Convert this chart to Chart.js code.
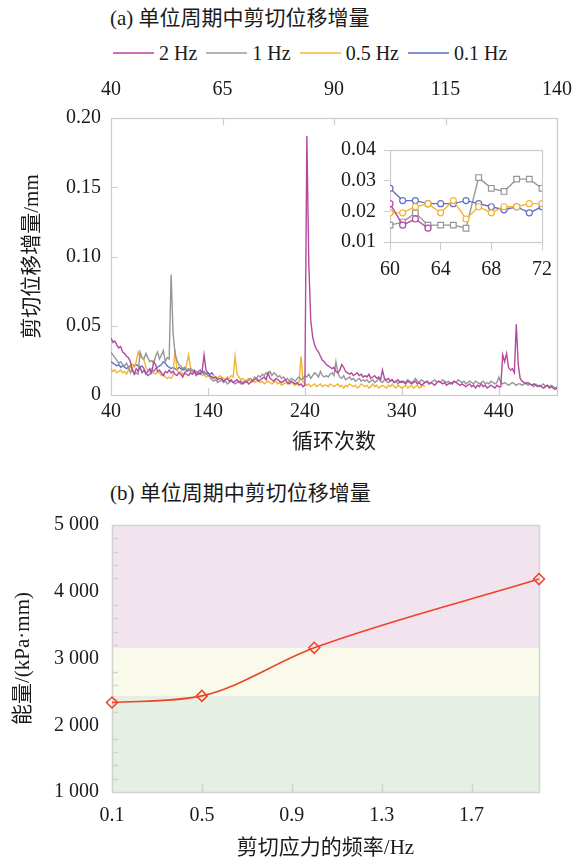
<!DOCTYPE html>
<html><head><meta charset="utf-8">
<script src="https://cdn.jsdelivr.net/npm/chart.js@4.4.1/dist/chart.umd.min.js"></script>
<style>
html,body{margin:0;padding:0;background:#fff;}
body{width:588px;height:863px;position:relative;overflow:hidden;font-family:'Liberation Serif','Noto Sans CJK SC',serif;color:#1a1a1a;}
canvas{position:absolute;display:block;}
.ttl{position:absolute;font-size:21px;line-height:24px;white-space:nowrap;}
#legend{position:absolute;left:113px;top:41px;display:flex;gap:9px;font-size:20px;line-height:24px;white-space:nowrap;}
#legend .it{display:flex;align-items:center;gap:5px;}
#legend .ln{width:41px;height:2px;}
</style></head><body>
<div class="ttl" style="left:110px;top:6px">(a) 单位周期中剪切位移增量</div>
<div id="legend"></div>
<canvas id="cA" width="588" height="400" style="left:0;top:60px"></canvas>
<canvas id="cB" width="250" height="160" style="left:320px;top:130px"></canvas>
<div class="ttl" style="left:110px;top:481px">(b) 单位周期中剪切位移增量</div>
<canvas id="cC" width="588" height="363" style="left:0;top:500px"></canvas>
<script>
// ---------- DATA: panel (a) ----------
const seriesNames = ['2 Hz', '1 Hz', '0.5 Hz', '0.1 Hz'];
const cycles = [40,42,44,46,48,50,52,54,56,58,60,62,64,66,68,70,72,74,76,78,80,82,84,86,88,90,92,94,96,98,100,
102,104,106,108,110,112,114,116,118,120,122,124,126,128,130,132,134,136,138,140,142,144,146,148,150,152,154,156,158,160,
162,164,166,168,170,172,174,176,178,180,182,184,186,188,190,192,194,196,198,200,202,204,206,208,210,212,214,216,218,220,
222,224,226,228,230,232,234,236,238,240,242,244,246,248,250,252,254,256,258,260,262,264,266,268,270,272,274,276,278,280,
282,284,286,288,290,292,294,296,298,300,302,304,306,308,310,312,314,316,318,320,322,324,326,328,330,332,334,336,338,340,
342,344,346,348,350,352,354,356,358,360,362,364,366,368,370,372,374,376,378,380,382,384,386,388,390,392,394,396,398,400,
402,404,406,408,410,412,414,416,418,420,422,424,426,428,430,432,434,436,438,440,442,444,446,448,450,452,454,456,458,460,
462,464,466,468,470,472,474,476,478,480,482,484,486,488,490,492,494,496,498,500];

const disp2Hz = [
0.041,0.038,0.039,0.036,0.034,0.035,0.031,0.030,0.028,0.027,0.024,
0.018,0.015,0.019,0.017,0.020,0.016,0.018,0.015,0.017,0.019,0.016,0.024,0.022,0.017,0.018,0.016,0.014,0.017,0.016,0.018,
0.016,0.017,0.015,0.014,0.016,0.015,0.013,0.016,0.015,0.014,0.016,0.015,0.017,0.014,0.016,0.015,0.017,0.029,0.018,0.016,
0.014,0.013,0.012,0.013,0.011,0.012,0.012,0.010,0.011,0.012,0.010,0.011,0.009,0.010,0.011,0.009,0.010,0.008,0.009,0.010,
0.008,0.009,0.010,0.011,0.012,0.010,0.011,0.012,0.013,0.011,
0.016,0.012,0.011,0.010,0.012,0.011,0.010,0.009,0.010,0.011,0.009,0.008,0.010,0.009,0.008,0.009,0.007,0.008,0.006,0.007,
0.187,0.095,0.054,0.042,0.036,0.033,0.031,0.028,0.025,0.024,
0.022,0.021,0.020,0.019,0.020,0.017,0.016,0.018,0.022,0.020,0.017,0.016,0.015,0.016,0.014,0.015,0.016,0.014,0.015,0.013,
0.014,0.013,0.015,0.012,0.013,0.014,0.012,0.013,0.011,0.018,0.012,0.011,0.012,0.010,0.011,0.009,0.010,0.011,0.009,0.010,
0.009,0.008,0.010,0.009,0.008,0.009,0.010,0.008,0.009,0.007,0.008,0.009,0.010,0.008,0.009,0.008,0.007,0.009,0.010,0.009,
0.008,0.009,0.007,0.008,0.009,0.008,0.010,0.009,0.008,0.007,
0.008,0.007,0.006,0.007,0.008,0.006,0.007,0.005,0.007,0.006,0.008,0.006,0.007,0.005,0.006,0.007,0.006,0.005,0.007,0.006,
0.006,0.029,0.024,0.030,0.020,0.018,0.019,0.016,0.051,0.022,
0.012,0.010,0.009,0.008,0.009,0.008,0.007,0.008,0.007,0.006,0.007,0.006,0.005,0.006,0.007,0.005,0.006,0.005,0.004,0.005];

const disp1Hz = [
0.031,0.029,0.027,0.025,0.023,0.024,0.022,0.021,0.023,0.020,0.016,
0.019,0.015,0.016,0.015,0.031,0.027,0.026,0.030,0.027,0.024,0.025,0.023,0.028,0.031,0.026,0.029,0.032,0.024,0.027,0.026,
0.087,0.045,0.030,0.025,0.022,0.021,0.019,0.020,0.018,0.019,0.017,0.018,0.016,0.017,0.015,0.016,0.017,0.015,0.016,0.014,
0.013,0.011,0.010,0.011,0.009,0.010,0.011,0.009,0.010,0.008,0.009,0.010,0.009,0.008,0.009,0.010,0.008,0.009,0.010,0.009,
0.011,0.012,0.010,0.013,0.012,0.014,0.013,0.015,0.014,0.016,
0.015,0.017,0.014,0.016,0.015,0.013,0.014,0.012,0.013,0.011,0.012,0.010,0.012,0.011,0.010,0.012,0.013,0.011,0.012,0.014,
0.013,0.015,0.012,0.014,0.016,0.015,0.013,0.017,0.014,0.013,
0.014,0.013,0.015,0.016,0.014,0.024,0.016,0.013,0.012,0.014,0.011,0.012,0.013,0.011,0.012,0.010,0.011,0.012,0.010,0.011,
0.010,0.011,0.009,0.010,0.011,0.009,0.010,0.012,0.010,0.009,0.011,0.010,0.009,0.010,0.011,0.009,0.010,0.008,0.010,0.009,
0.010,0.009,0.011,0.010,0.009,0.010,0.012,0.010,0.009,0.011,0.010,0.009,0.010,0.008,0.009,0.010,0.011,0.009,0.010,0.009,
0.011,0.010,0.009,0.010,0.008,0.009,0.010,0.009,0.011,0.010,
0.009,0.010,0.008,0.009,0.010,0.009,0.008,0.010,0.009,0.008,0.009,0.010,0.008,0.009,0.008,0.010,0.009,0.008,0.009,0.013,
0.009,0.008,0.009,0.008,0.007,0.008,0.009,0.008,0.007,0.008,
0.008,0.007,0.008,0.009,0.007,0.008,0.007,0.006,0.008,0.007,0.006,0.007,0.008,0.006,0.007,0.006,0.007,0.006,0.005,0.006];

const disp05Hz = [
0.019,0.017,0.018,0.016,0.017,0.018,0.016,0.017,0.015,0.018,0.020,
0.022,0.020,0.024,0.031,0.028,0.027,0.025,0.020,0.018,0.017,0.019,0.016,0.015,0.017,0.016,0.014,0.015,0.013,0.012,0.013,
0.012,0.014,0.033,0.018,0.016,0.017,0.015,0.016,0.022,0.029,0.020,0.018,0.016,0.017,0.015,0.016,0.014,0.015,0.013,0.014,
0.013,0.012,0.014,0.013,0.012,0.014,0.013,0.012,0.011,0.013,0.012,0.014,0.013,0.028,0.015,0.013,0.011,0.012,0.010,0.011,
0.012,0.010,0.011,0.009,0.010,0.011,0.009,0.010,0.008,0.009,
0.010,0.009,0.008,0.009,0.010,0.008,0.009,0.007,0.008,0.009,0.008,0.010,0.009,0.008,0.007,0.008,0.009,0.028,0.010,0.008,
0.007,0.008,0.006,0.007,0.008,0.006,0.007,0.008,0.006,0.007,
0.007,0.006,0.008,0.007,0.006,0.007,0.008,0.006,0.007,0.005,0.007,0.006,0.008,0.007,0.006,0.007,0.005,0.006,0.008,0.007,
0.006,0.007,0.005,0.006,0.008,0.006,0.007,0.005,0.006,0.007,0.006,0.005,0.007,0.006,0.008,0.006,0.005,0.007,0.006,0.005,
0.006,0.007,0.005,0.006,0.007,0.005,0.006,0.007,0.005,0.006,0.007,0.006];

const disp01Hz = [
0.024,0.023,0.022,0.021,0.022,0.020,0.021,0.020,0.019,0.020,0.021,
0.022,0.021,0.022,0.021,0.020,0.021,0.019,0.016,0.014,0.015,0.018,0.017,0.019,0.020,0.021,0.022,0.024,0.023,0.021,0.020,
0.019,0.020,0.019,0.018,0.020,0.019,0.018,0.019,0.017,0.018,0.019,0.017,0.018,0.016,0.017,0.018,0.016,0.017,0.015,0.016,
0.015,0.016,0.014];

const mainSeries = [disp2Hz, disp1Hz, disp05Hz, disp01Hz];
const mainXTicks = [40, 140, 240, 340, 440];
const topXTicks = [40, 65, 90, 115, 140];
const mainYTicks = [0, 0.05, 0.1, 0.15, 0.2];

// inset (cycles 60-72)
const insetCycles = [60,61,62,63,64,65,66,67,68,69,70,71,72];
const inset2Hz  = [0.0225,0.0155,0.0175,0.0145];
const inset1Hz  = [0.0155,0.0165,0.0195,0.0155,0.0155,0.0155,0.0145,0.0310,0.0275,0.0265,0.0305,0.0305,0.0275];
const inset05Hz = [0.0195,0.0195,0.0215,0.0225,0.0195,0.0235,0.0175,0.0215,0.0195,0.0215,0.0215,0.0225,0.0225];
const inset01Hz = [0.0275,0.0235,0.0235,0.0225,0.0225,0.0225,0.0235,0.0225,0.0215,0.0205,0.0215,0.0195,0.0215];
const insetSeries = [inset2Hz, inset1Hz, inset05Hz, inset01Hz];
const insetXTicks = [60, 64, 68, 72];
const insetYTicks = [0.01, 0.02, 0.03, 0.04];

// ---------- DATA: panel (b) ----------
const freq = [0.1, 0.5, 1.0, 2.0];
const energy = [2340, 2440, 3160, 4190];
const bandEdges = [1000, 2440, 3160, 5000];
const freqTicks = [0.1, 0.5, 0.9, 1.3, 1.7];
const freqTickLabels = ['0.1', '0.5', '0.9', '1.3', '1.7'];
const energyTicks = [1000, 2000, 3000, 4000, 5000];
const energyMinorTicks = [1200,1400,1600,1800,2200,2400,2600,2800,3200,3400,3600,3800,4200,4400,4600,4800];

// ---------- styles ----------
const lineColors = ['#b5489f', '#969696', '#f3b432', '#6270c8'];
const legendColors = ['#cc6fb6', '#b4b4b4', '#f6c868', '#8490d2'];
const bandColors = ['#e6efe3', '#fafaeb', '#f1e4ef'];
const FONT = "'Liberation Serif', 'Noto Sans CJK SC', serif";
Chart.defaults.font.family = FONT;
Chart.defaults.font.size = 20;
Chart.defaults.color = '#1a1a1a';

// legend
const leg = document.getElementById('legend');
seriesNames.forEach((n, k) => {
  const it = document.createElement('div'); it.className = 'it';
  const ln = document.createElement('div'); ln.className = 'ln'; ln.style.background = legendColors[k];
  const tx = document.createElement('span'); tx.textContent = n;
  it.appendChild(ln); it.appendChild(tx); leg.appendChild(it);
});

const framePlugin = {
  id: 'frame',
  beforeDatasetsDraw(chart, args, o) {
    const {ctx, chartArea: a} = chart;
    ctx.save();
    (o.bands || []).forEach(b => {
      const s = chart.scales[b.axis];
      const y1 = s.getPixelForValue(b.from), y2 = s.getPixelForValue(b.to);
      ctx.fillStyle = b.color;
      ctx.fillRect(a.left, Math.min(y1, y2), a.right - a.left, Math.abs(y2 - y1));
    });
    ctx.strokeStyle = o.color; ctx.lineWidth = o.width;
    if (o.box) ctx.strokeRect(Math.round(a.left) + 0.5, Math.round(a.top) + 0.5, Math.round(a.right - a.left), Math.round(a.bottom - a.top));
    ctx.beginPath();
    (o.marks || []).forEach(m => {
      const s = chart.scales[m.axis];
      m.values.forEach(v => {
        const p = Math.round(s.getPixelForValue(v)) + 0.5;
        if (m.side === 'bottom') { ctx.moveTo(p, a.bottom); ctx.lineTo(p, a.bottom - m.len); }
        if (m.side === 'top') { ctx.moveTo(p, a.top); ctx.lineTo(p, a.top + m.len); }
        if (m.side === 'left') { ctx.moveTo(a.left, p); ctx.lineTo(a.left + m.len, p); }
      });
    });
    ctx.stroke();
    ctx.restore();
  }
};

const setTicks = arr => s => { s.ticks = arr.map(v => ({value: v})); };
const noGrid = {display: false, drawTicks: false, drawOnChartArea: false};

// ---------- chart (a) main ----------
new Chart(document.getElementById('cA'), {
  type: 'line',
  data: {
    datasets: seriesNames.map((name, k) => ({
      label: name,
      data: mainSeries[k].map((v, i) => ({x: cycles[i], y: v})),
      borderColor: lineColors[k], borderWidth: 1.4, pointRadius: 0, tension: 0, fill: false
    }))
  },
  options: {
    responsive: false, animation: false, events: [],
    layout: {padding: {top: 0, right: 27, bottom: 0, left: 0}},
    plugins: {
      legend: {display: false}, tooltip: {enabled: false},
      frame: {color: '#cbcbcb', width: 1.2, box: true, marks: [
        {axis: 'x', side: 'bottom', values: mainXTicks.slice(1), len: 7},
        {axis: 'xTop', side: 'top', values: topXTicks.slice(1, -1), len: 7},
        {axis: 'y', side: 'left', values: mainYTicks.slice(1, -1), len: 7}
      ]}
    },
    scales: {
      x: {type: 'linear', position: 'bottom', min: 40, max: 500,
        afterBuildTicks: setTicks(mainXTicks), afterFit: s => { s.height = 65; },
        grid: noGrid, border: {display: false},
        ticks: {padding: 5, maxRotation: 0, autoSkip: false},
        title: {display: true, text: '循环次数', font: {size: 21}, padding: {top: 0, bottom: 5}}},
      xTop: {type: 'linear', position: 'top', min: 40, max: 140,
        afterBuildTicks: setTicks(topXTicks), afterFit: s => { s.height = 58; },
        grid: noGrid, border: {display: false},
        ticks: {padding: 16, maxRotation: 0, autoSkip: false}},
      y: {type: 'linear', position: 'left', min: 0, max: 0.2,
        afterBuildTicks: setTicks(mainYTicks), afterFit: s => { s.width = 111; },
        grid: noGrid, border: {display: false},
        ticks: {padding: 10},
        title: {display: true, text: '剪切位移增量/mm', font: {size: 21}, padding: {top: 20, bottom: 0}}}
    }
  },
  plugins: [framePlugin]
});

// ---------- chart (a) inset ----------
const insetStyles = ['circle', 'rect', 'circle', 'circle'];
const insetOrder = [0, 2, 3, 1];
new Chart(document.getElementById('cB'), {
  type: 'line',
  data: {
    datasets: insetOrder.map(k => ({
      label: seriesNames[k],
      data: insetSeries[k].map((v, i) => ({x: insetCycles[i], y: v})),
      borderColor: lineColors[k], borderWidth: 1.4, tension: 0, fill: false,
      pointStyle: insetStyles[k], pointRadius: k === 1 ? 4 : 3,
      pointBorderColor: lineColors[k], pointBackgroundColor: '#ffffff', pointBorderWidth: 1.2
    }))
  },
  options: {
    responsive: false, animation: false, events: [],
    layout: {padding: {top: 15, right: 28, bottom: 0, left: 0}},
    plugins: {legend: {display: false}, tooltip: {enabled: false},
      frame: {color: '#cbcbcb', width: 1.2, box: true, marks: []}},
    scales: {
      x: {type: 'linear', min: 60, max: 72,
        afterBuildTicks: setTicks(insetXTicks), afterFit: s => { s.height = 48; },
        grid: {display: true, drawOnChartArea: false, drawTicks: true, tickLength: 8, color: '#cbcbcb'},
        border: {display: false},
        ticks: {padding: 8, maxRotation: 0, autoSkip: false}},
      y: {type: 'linear', min: 0.01, max: 0.04,
        afterBuildTicks: setTicks(insetYTicks), afterFit: s => { s.width = 70; },
        grid: {display: true, drawOnChartArea: false, drawTicks: true, tickLength: 6, color: '#cbcbcb'},
        border: {display: false},
        ticks: {padding: 8}}
    }
  },
  plugins: [framePlugin]
});

// ---------- chart (b) ----------
const fmtThousands = v => String(v).replace(/\B(?=(\d{3})+(?!\d))/g, ' ');
new Chart(document.getElementById('cC'), {
  type: 'line',
  data: {
    datasets: [{
      label: '能量',
      data: freq.map((f, i) => ({x: f, y: energy[i]})),
      borderColor: '#ef4228', borderWidth: 1.6, fill: false,
      cubicInterpolationMode: 'monotone',
      pointStyle: 'rectRot', pointRadius: 5.5, pointBorderColor: '#ef4228',
      pointBackgroundColor: 'rgba(0,0,0,0)', pointBorderWidth: 1.5, clip: false
    }]
  },
  options: {
    responsive: false, animation: false, events: [],
    layout: {padding: {top: 14, right: 49, bottom: 0, left: 0}},
    plugins: {legend: {display: false}, tooltip: {enabled: false},
      frame: {color: '#d2d2d2', width: 1.5, box: true,
        bands: bandColors.map((c, i) => ({axis: 'y', from: bandEdges[i], to: bandEdges[i + 1], color: c})),
        marks: [
          {axis: 'x', side: 'bottom', values: freqTicks.slice(1), len: 8},
          {axis: 'y', side: 'left', values: energyMinorTicks, len: 6}
        ]}},
    scales: {
      x: {type: 'linear', min: 0.1, max: 2.0,
        afterBuildTicks: setTicks(freqTicks), afterFit: s => { s.height = 71; },
        grid: noGrid, border: {display: false},
        ticks: {padding: 12, maxRotation: 0, autoSkip: false,
          callback: (v, i) => freqTickLabels[i]},
        title: {display: true, text: '剪切应力的频率/Hz', font: {size: 21}, padding: {top: 0, bottom: 2}}},
      y: {type: 'linear', min: 1000, max: 5000,
        afterBuildTicks: setTicks(energyTicks), afterFit: s => { s.width = 112; },
        grid: noGrid, border: {display: false},
        ticks: {padding: 13, callback: v => fmtThousands(v)},
        title: {display: true, text: '能量/(kPa·mm)', font: {size: 21}, padding: {top: 11, bottom: 0}}}
    }
  },
  plugins: [framePlugin]
});
</script>
</body></html>
